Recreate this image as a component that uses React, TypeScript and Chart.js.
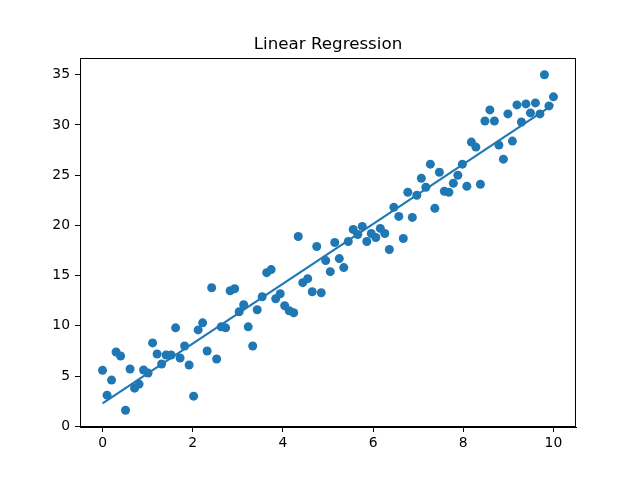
import React, { useEffect, useRef } from "react";
import { Chart, registerables } from "chart.js";

Chart.register(...registerables);

const titleText = "Linear Regression";
const xValues = [
  0, 0.1, 0.2, 0.3, 0.4, 0.51, 0.61, 0.71, 0.81, 0.91,
  1.01, 1.11, 1.21, 1.31, 1.41, 1.52, 1.62, 1.72, 1.82, 1.92,
  2.02, 2.12, 2.22, 2.32, 2.42, 2.53, 2.63, 2.73, 2.83, 2.93,
  3.03, 3.13, 3.23, 3.33, 3.43, 3.54, 3.64, 3.74, 3.84, 3.94,
  4.04, 4.14, 4.24, 4.34, 4.44, 4.55, 4.65, 4.75, 4.85, 4.95,
  5.05, 5.15, 5.25, 5.35, 5.45, 5.56, 5.66, 5.76, 5.86, 5.96,
  6.06, 6.16, 6.26, 6.36, 6.46, 6.57, 6.67, 6.77, 6.87, 6.97,
  7.07, 7.17, 7.27, 7.37, 7.47, 7.58, 7.68, 7.78, 7.88, 7.98,
  8.08, 8.18, 8.28, 8.38, 8.48, 8.59, 8.69, 8.79, 8.89, 8.99,
  9.09, 9.19, 9.29, 9.39, 9.49, 9.6, 9.7, 9.8, 9.9, 10,
];
const yValues = [
  5.57, 3.1, 4.6, 7.4, 7.0, 1.6, 5.7, 3.8, 4.2, 5.6,
  5.3, 8.3, 7.2, 6.2, 7.1, 7.1, 9.8, 6.8, 8.0, 6.1,
  3.0, 9.6, 10.3, 7.5, 13.8, 6.7, 9.9, 9.8, 13.5, 13.7,
  11.4, 12.1, 9.9, 8.0, 11.6, 12.9, 15.3, 15.6, 12.7, 13.2,
  12.0, 11.5, 11.3, 18.9, 14.3, 14.7, 13.4, 17.9, 13.3, 16.5,
  15.4, 18.3, 16.7, 15.8, 18.4, 19.6, 19.1, 19.9, 18.4, 19.2,
  18.8, 19.7, 19.2, 17.6, 21.8, 20.9, 18.7, 23.3, 20.8, 23.0,
  24.7, 23.8, 26.1, 21.7, 25.3, 23.4, 23.3, 24.2, 25.0, 26.1,
  23.9, 28.3, 27.8, 24.1, 30.4, 31.5, 30.4, 28.0, 26.6, 31.1,
  28.4, 32.0, 30.3, 32.1, 31.2, 32.2, 31.1, 35.0, 31.9, 32.8,
];
const fitX = [0, 10];
const fitY = [2.28, 32.05];
const xTicks = [0, 2, 4, 6, 8, 10];
const yTicks = [0, 5, 10, 15, 20, 25, 30, 35];

const BLUE = "#1f77b4";
const FONT = "'DejaVu Sans', sans-serif";

const framePlugin = {
  id: "frameAndTitle",
  afterDraw(chart: any) {
    const { ctx, chartArea } = chart;
    ctx.save();
    ctx.strokeStyle = "#000";
    ctx.lineWidth = 1;
    ctx.strokeRect(
      Math.round(chartArea.left) + 0.5,
      Math.round(chartArea.top) + 0.5,
      Math.round(chartArea.right - chartArea.left) - 1,
      Math.round(chartArea.bottom - chartArea.top) - 1
    );
    ctx.fillStyle = "#000";
    ctx.font = `16.7px ${FONT}`;
    ctx.textAlign = "center";
    ctx.textBaseline = "alphabetic";
    ctx.fillText(titleText, (chartArea.left + chartArea.right) / 2, chartArea.top - 9);
    ctx.restore();
  },
};

export default function App() {
  const ref = useRef<HTMLCanvasElement | null>(null);
  useEffect(() => {
    if (!ref.current) return;
    const chart = new Chart(ref.current, {
      type: "scatter",
      data: {
        datasets: [
          {
            type: "line",
            data: fitX.map((x, i) => ({ x, y: fitY[i] })),
            borderColor: BLUE,
            borderWidth: 2.1,
            pointRadius: 0,
            fill: false,
            order: 0,
          } as any,
          {
            type: "scatter",
            data: xValues.map((x, i) => ({ x, y: yValues[i] })),
            backgroundColor: BLUE,
            borderWidth: 0,
            pointRadius: 4.5,
            pointHoverRadius: 4.5,
            order: 1,
          },
        ],
      },
      plugins: [framePlugin],
      options: {
        responsive: false,
        animation: false,
        events: [],
        layout: { padding: { left: 0, right: 64, top: 58, bottom: 0 } },
        plugins: {
          legend: { display: false },
          tooltip: { enabled: false },
          title: { display: false },
        },
        scales: {
          x: {
            type: "linear",
            min: -0.5,
            max: 10.5,
            afterBuildTicks: (scale: any) => {
              scale.ticks = xTicks.map((v) => ({ value: v }));
            },
            afterFit: (scale: any) => {
              scale.height = 53;
            },
            grid: {
              display: true,
              drawOnChartArea: false,
              drawTicks: true,
              tickLength: 5,
              color: "#000",
            },
            border: { display: true, color: "#000" },
            ticks: {
              color: "#000",
              padding: 3,
              maxRotation: 0,
              font: { family: FONT, size: 13.9 },
            },
          },
          y: {
            type: "linear",
            min: -0.07,
            max: 36.67,
            afterBuildTicks: (scale: any) => {
              scale.ticks = yTicks.map((v) => ({ value: v }));
            },
            afterFit: (scale: any) => {
              scale.width = 80;
            },
            grid: {
              display: true,
              drawOnChartArea: false,
              drawTicks: true,
              tickLength: 5,
              color: "#000",
            },
            border: { display: true, color: "#000" },
            ticks: {
              color: "#000",
              padding: 5,
              font: { family: FONT, size: 13.9 },
            },
          },
        },
      },
    });
    return () => chart.destroy();
  }, []);
  return (
    <div style={{ position: "absolute", left: 0, top: 0, width: 640, height: 480, background: "#fff" }}>
      <canvas ref={ref} width={640} height={480} style={{ display: "block" }} />
    </div>
  );
}
